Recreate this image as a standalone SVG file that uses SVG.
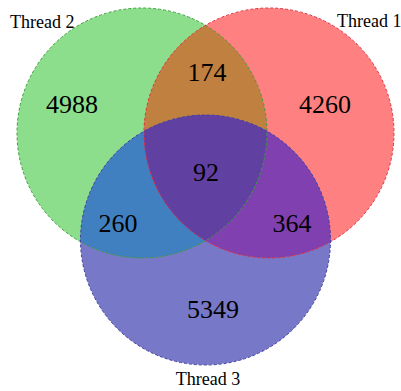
<svg xmlns="http://www.w3.org/2000/svg" width="401" height="391" viewBox="0 0 401 391">
<style>
.lbl{font-family:"Liberation Serif","Times New Roman",serif;font-size:18px;fill:#000}
.num{font-family:"Liberation Serif","Times New Roman",serif;font-size:26px;fill:#000;text-anchor:middle}
.edge{fill:none;stroke-width:1;stroke-dasharray:3,2}
</style>
<defs>
<circle id="cG" cx="142" cy="133" r="125"/>
<circle id="cR" cx="269" cy="133" r="125"/>
<circle id="cB" cx="205.5" cy="240" r="125"/>
<clipPath id="clipG"><use href="#cG"/></clipPath>
<clipPath id="clipR"><use href="#cR"/></clipPath>
<clipPath id="clipB"><use href="#cB"/></clipPath>
<clipPath id="clipGR" clip-path="url(#clipG)"><use href="#cR"/></clipPath>
</defs>
<rect width="401" height="391" fill="#fff"/>
<g id="regions">
<use href="#cG" fill="#8CDE8C"/>
<use href="#cR" fill="#FF8080"/>
<use href="#cB" fill="#7878C8"/>
<use href="#cR" fill="#C08040" clip-path="url(#clipG)"/>
<use href="#cB" fill="#4080C0" clip-path="url(#clipG)"/>
<use href="#cB" fill="#8040B0" clip-path="url(#clipR)"/>
<use href="#cB" fill="#6040A0" clip-path="url(#clipGR)"/>
</g>
<g id="connectors">
<use href="#cG" class="edge" stroke="#3C9E3C"/>
<use href="#cR" class="edge" stroke="#E03040"/>
<use href="#cB" class="edge" stroke="#4040A0"/>
</g>
<g id="thread2"><text class="lbl" x="10" y="28">Thread 2</text></g>
<g id="thread1"><text class="lbl" x="337" y="27">Thread 1</text></g>
<g id="thread3"><text class="lbl" x="208" y="385" text-anchor="middle">Thread 3</text></g>
<g id="n4988"><text class="num" x="72" y="113">4988</text></g>
<g id="n174"><text class="num" x="207" y="81">174</text></g>
<g id="n4260"><text class="num" x="325" y="113">4260</text></g>
<g id="n92"><text class="num" x="206" y="181">92</text></g>
<g id="n260"><text class="num" x="118" y="232">260</text></g>
<g id="n364"><text class="num" x="292" y="232">364</text></g>
<g id="n5349"><text class="num" x="213" y="318">5349</text></g>
</svg>
